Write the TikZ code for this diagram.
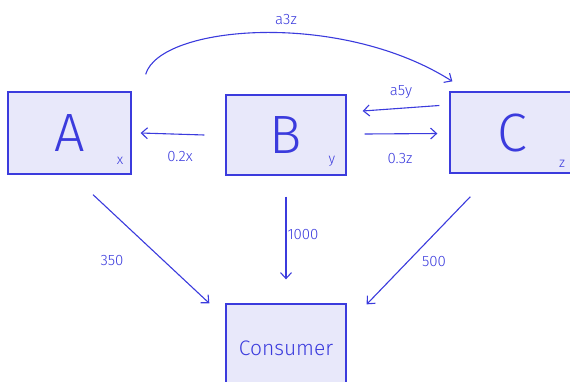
\documentclass[tikz,border=0pt]{standalone}
\usepackage{fontspec}
\setmainfont{Fira Sans}[UprightFont=* Light]
\usetikzlibrary{arrows.meta,calc}
\definecolor{ink}{HTML}{3B3BDD}
\definecolor{boxfill}{HTML}{E8E8FA}
\begin{document}
\begin{tikzpicture}[x=1pt,y=-1pt,
  box/.style={draw=ink,fill=boxfill,line width=1.3pt,inner sep=0pt,text=ink},
  big/.style={font=\fontsize{54}{54}\selectfont},
  lbl/.style={text=ink,font=\fontsize{15}{15}\selectfont,inner sep=0pt},
  sub/.style={text=ink,font=\fontsize{14}{14}\selectfont,inner sep=0pt},
  arr/.style={draw=ink,line width=1.1pt,-{Straight Barb[length=6pt,width=11pt,line width=1.1pt]}}]
\useasboundingbox (0,0) rectangle (570,381);
\begin{scope}
\clip (0,0) rectangle (570,381);
\node[box,big,minimum width=123pt,minimum height=82pt] (A) at (69.5,133) {A};
\node[box,big,minimum width=120pt,minimum height=80pt] (B) at (286,135) {B};
\node[box,big,minimum width=125pt,minimum height=81pt] (C) at (512.5,132.5) {C};
\node[box,minimum width=120pt,minimum height=88pt,font=\fontsize{21}{21}\selectfont] (D) at (286,348) {Consumer};
\end{scope}
\node[sub] (sx) at (120,161) {x};
\node[sub] (sy) at (332,161) {y};
\node[sub] (sz) at (562,164) {z};
% connectors
\draw[arr] ($(A.north east)+(14,-17)$) .. controls (160,25) and (340,10) .. ($(C.north west)+(3,-10)$);
\draw[arr] ($(C.west)+(-10,-27)$) -- ($(B.east)+(16,-24)$);
\draw[arr] ($(B.west)+(-21,0)$) -- ($(A.east)+(9,0)$);
\draw[arr] ($(B.east)+(18,-1)$) -- ($(C.west)+(-12,1)$);
\draw[arr] ($(A.south)+(23.5,20)$) -- ($(D.north west)+(-16,0)$);
\draw[arr] ($(B.south)+(0,21)$) -- ($(D.north)+(0,-24)$);
\draw[arr] ($(C.south west)+(21,23)$) -- ($(D.north east)+(20,1)$);
% labels
\node[lbl] (l1) at (286,20) {a3z};
\node[lbl] (l2) at (401,92) {a5y};
\node[lbl] (l3) at (180,157) {0.2x};
\node[lbl] (l4) at (400,159) {0.3z};
\node[lbl] (l5) at (112,261) {350};
\node[lbl] (l6) at (303,235) {1000};
\node[lbl] (l7) at (434,262) {500};
\end{tikzpicture}
\end{document}
